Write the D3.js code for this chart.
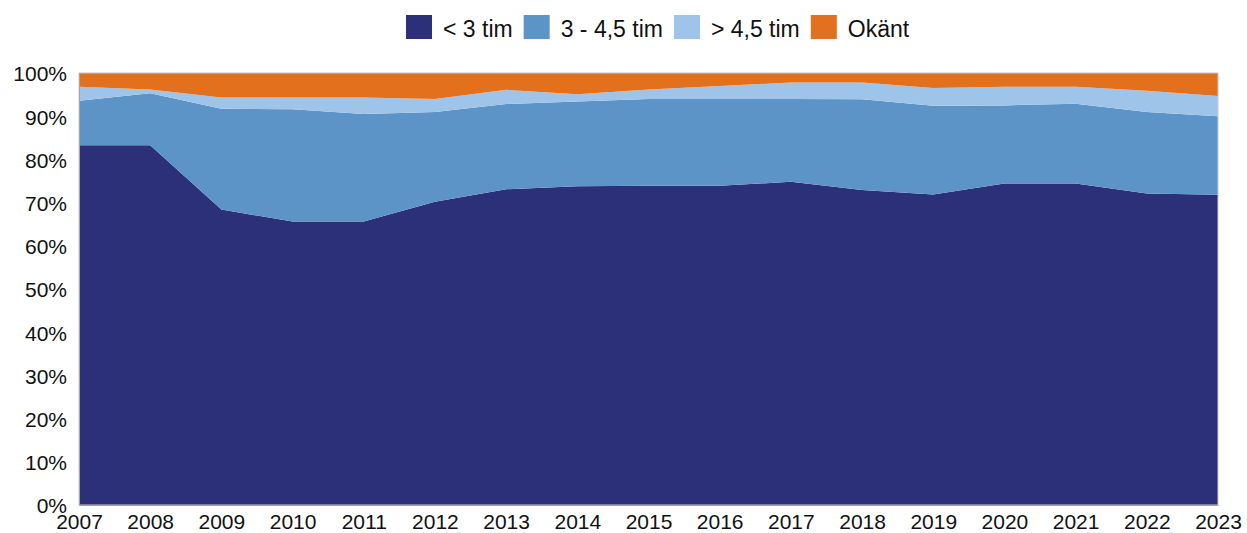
<!DOCTYPE html>
<html>
<head>
<meta charset="utf-8">
<script src="https://cdn.jsdelivr.net/npm/d3@7"></script>
<style>
  body { margin: 0; background: #fff; }
  svg { font-family: "Liberation Sans", Arial, sans-serif; }
</style>
</head>
<body>
<div id="chart"></div>
<script>
var years = ["2007","2008","2009","2010","2011","2012","2013","2014","2015","2016","2017","2018","2019","2020","2021","2022","2023"];
var seriesNames = ["< 3 tim", "3 - 4,5 tim", "> 4,5 tim", "Okänt"];
var under3 = [83.3, 83.3, 68.4, 65.6, 65.6, 70.2, 73.1, 73.8, 73.9, 73.9, 74.8, 72.9, 71.9, 74.4, 74.4, 72.1, 71.8];
var mid = [10.3, 12.0, 23.3, 26.0, 24.9, 20.8, 19.7, 19.6, 20.1, 20.1, 19.2, 21.0, 20.5, 18.1, 18.5, 18.9, 18.2];
var over45 = [3.2, 0.9, 2.6, 2.7, 3.8, 3.0, 3.3, 1.7, 2.2, 3.0, 3.8, 3.9, 4.1, 4.3, 3.9, 4.9, 4.7];
var unknown = [3.2, 3.8, 5.7, 5.7, 5.7, 6.0, 3.9, 4.9, 3.8, 3.0, 2.2, 2.2, 3.5, 3.2, 3.2, 4.1, 5.3];
var yTicks = [0, 10, 20, 30, 40, 50, 60, 70, 80, 90, 100];
var colors = ["#2c3079", "#5d94c8", "#9ec4ea", "#e2701c"];

var width = 1247, height = 533;
var margin = {left: 79, right: 29, top: 73, bottom: 28};

var svg = d3.select("#chart").append("svg")
    .attr("width", width)
    .attr("height", height);

var table = years.map(function(y, i) {
  return {year: y, s0: under3[i], s1: mid[i], s2: over45[i], s3: unknown[i]};
});
var stack = d3.stack().keys(["s0", "s1", "s2", "s3"]);
var layers = stack(table);

var x = d3.scalePoint().domain(years).range([margin.left, width - margin.right]);
var y = d3.scaleLinear().domain([0, 100]).range([height - margin.bottom, margin.top]);

var area = d3.area()
    .x(function(d) { return x(d.data.year); })
    .y0(function(d) { return y(d[0]); })
    .y1(function(d) { return y(Math.min(d[1], 100)); });

svg.append("g")
  .selectAll("path")
  .data(layers)
  .enter()
  .append("path")
  .attr("d", area)
  .attr("fill", function(d, i) { return colors[i]; });

// plot frame
svg.append("rect")
  .attr("x", margin.left)
  .attr("y", margin.top)
  .attr("width", width - margin.left - margin.right)
  .attr("height", height - margin.bottom - margin.top)
  .attr("fill", "none")
  .attr("stroke", "#c8c8c8")
  .attr("stroke-width", 1);

// y axis
var yAxis = svg.append("g")
  .attr("transform", "translate(" + margin.left + ",0)")
  .call(d3.axisLeft(y).tickValues(yTicks).tickSize(0).tickPadding(12)
        .tickFormat(function(d) { return d + "%"; }));
yAxis.select(".domain").attr("stroke", "#a6a6a6");
yAxis.selectAll("text")
  .attr("font-size", "21px")
  .attr("dy", "0.38em")
  .attr("font-family", "Liberation Sans, Arial, sans-serif")
  .attr("fill", "#111");

// x axis
var xAxis = svg.append("g")
  .attr("transform", "translate(0," + (height - margin.bottom) + ")")
  .call(d3.axisBottom(x).tickSize(0).tickPadding(9));
xAxis.select(".domain").attr("stroke", "#a6a6a6");
xAxis.selectAll("text")
  .attr("font-size", "21px")
  .attr("font-family", "Liberation Sans, Arial, sans-serif")
  .attr("fill", "#111");

// legend
var legend = svg.append("g");
var lx = 406;
seriesNames.forEach(function(name, i) {
  legend.append("rect")
    .attr("x", lx).attr("y", 15)
    .attr("width", 26).attr("height", 24)
    .attr("fill", colors[i]);
  var t = legend.append("text")
    .attr("x", lx + 37).attr("y", 37)
    .attr("font-size", "23px")
    .attr("fill", "#111")
    .text(name);
  lx += 37 + t.node().getComputedTextLength() + 11;
});
</script>
</body>
</html>
